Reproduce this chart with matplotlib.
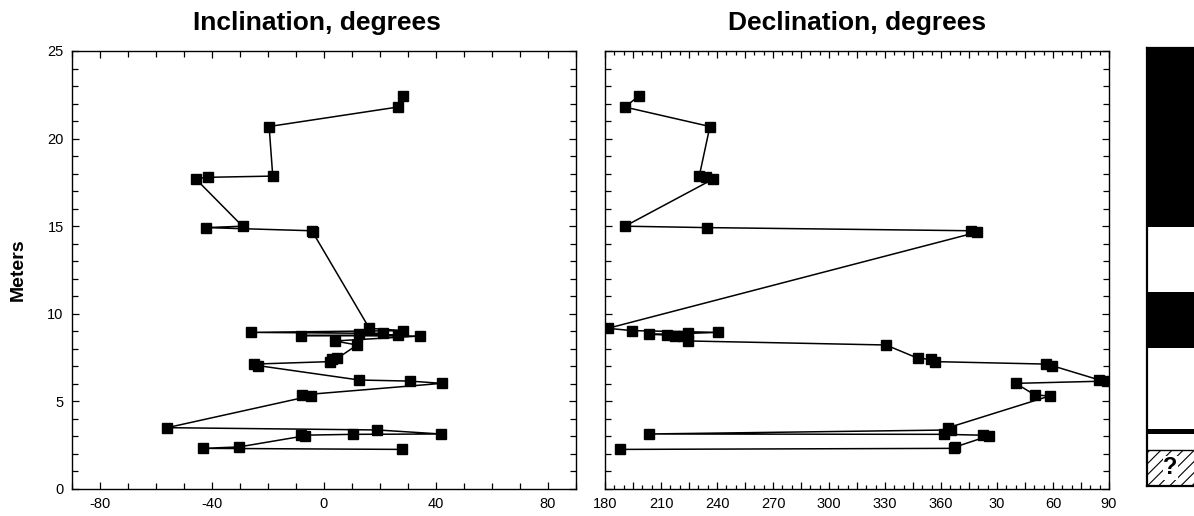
import matplotlib.pyplot as plt
from matplotlib.ticker import MultipleLocator, FuncFormatter

plt.rcParams['font.family'] = ['Liberation Sans', 'DejaVu Sans']
plt.rcParams['hatch.linewidth'] = 0.8
plt.rcParams['axes.unicode_minus'] = False

# sample depth in meters, same order in both panels
depth = [22.45, 21.80, 20.69, 17.86, 17.79, 17.70, 15.00, 14.92, 14.74, 14.65,
         9.17, 9.04, 8.94, 8.88, 8.83, 8.79, 8.76, 8.73, 8.45, 8.22,
         7.46, 7.40, 7.27, 7.13, 7.04, 6.22, 6.16, 6.03, 5.37, 5.31,
         3.50, 3.37, 3.14, 3.12, 3.07, 3.04, 2.40, 2.32, 2.26]
inclination = [28.1, 26.3, -19.6, -18.3, -41.6, -45.8, -29.1, -42.1, -4.4, -4.0,
               16.2, 28.2, -26.2, 20.9, 12.6, 26.6, -8.2, 34.2, 3.8, 11.8,
               4.8, 2.7, 2.2, -24.9, -23.4, 12.6, 30.6, 42.1, -7.8, -4.8,
               -56.0, 19.0, 41.7, 10.4, -8.2, -6.7, -30.4, -43.3, 27.8]
# declination unwrapped past 360 (0-90 sits right of 360)
declination = [198.3, 190.7, 236.2, 230.5, 234.3, 238.1, 190.7, 234.5, 376.3, 379.1,
               181.5, 194.7, 240.6, 224.2, 203.4, 213.0, 217.5, 222.0, 224.4, 330.5,
               347.7, 354.4, 356.8, 416.3, 419.5, 444.9, 448.7, 400.1, 410.2, 418.2,
               363.9, 365.4, 203.4, 361.6, 382.6, 385.8, 367.7, 366.7, 188.0]

# polarity column
zone_top = [25.17, 14.93, 11.22, 8.03, 3.41, 3.14, 2.23]
zone_bottom = [14.93, 11.22, 8.03, 3.41, 3.14, 2.23, 0.17]
zone_kind = ['normal', 'reversed', 'normal', 'reversed', 'normal', 'reversed', 'unknown']

W, H = 1194, 516
fig = plt.figure(figsize=(W / 100, H / 100), dpi=100)


def px_axes(left, top, right, bottom):
	return fig.add_axes([left / W, 1 - bottom / H, (right - left) / W, (bottom - top) / H])


def style_axes(ax):
	ax.set_ylim(0, 25)
	ax.yaxis.set_major_locator(MultipleLocator(5))
	ax.yaxis.set_minor_locator(MultipleLocator(1))
	ax.tick_params(which='both', direction='in', top=True, right=True, width=0.9, labelsize=10.5)
	ax.tick_params(which='major', length=5, pad=6)
	ax.tick_params(which='minor', length=4)
	for s in ax.spines.values():
		s.set_linewidth(1.0)


ax1 = px_axes(72, 51, 576, 489)
ax1.plot(inclination, depth, color='black', linewidth=1.1, marker='s', markersize=7)
ax1.set_xlim(-90, 90)
ax1.xaxis.set_major_locator(MultipleLocator(40))
ax1.xaxis.set_minor_locator(MultipleLocator(10))
style_axes(ax1)
ax1.set_title('Inclination, degrees', fontsize=19, fontweight='bold', pad=15, x=0.485)
ax1.set_ylabel('Meters', fontsize=14, fontweight='bold')
ax1.yaxis.set_label_coords(-0.089, 0.5)

ax2 = px_axes(605, 51, 1109, 489)
ax2.plot(declination, depth, color='black', linewidth=1.1, marker='s', markersize=7)
ax2.set_xlim(180, 450)
ax2.xaxis.set_major_locator(MultipleLocator(15))
ax2.xaxis.set_minor_locator(MultipleLocator(5))
ax2.xaxis.set_major_formatter(FuncFormatter(
	lambda v, p: '' if round(v) % 30 else str(int(round(v)) if v <= 360 else int(round(v)) - 360)))
style_axes(ax2)
ax2.tick_params(which='minor', axis='x', length=3)
ax2.set_yticklabels([])
ax2.set_title('Declination, degrees', fontsize=19, fontweight='bold', pad=15)

ax3 = px_axes(1147, 48, 1198, 486)
ax3.set_xlim(0, 1)
ax3.set_ylim(zone_bottom[-1], zone_top[0])
for top, bot, kind in zip(zone_top, zone_bottom, zone_kind):
	if kind == 'normal':
		ax3.axhspan(bot, top, color='black', linewidth=0)
	elif kind == 'unknown':
		ax3.axhspan(bot, top, facecolor='white', edgecolor='black', hatch='///', linewidth=0)
		ax3.text(0.46, (top + bot) / 2, '?', ha='center', va='center', fontsize=17, fontweight='bold',
			bbox=dict(facecolor='white', edgecolor='none', pad=0.5))
ax3.axhline(zone_top[-1], color='black', linewidth=1.0)
ax3.set_xticks([])
ax3.set_yticks([])
ax3.spines['right'].set_visible(False)
for s in ['left', 'top', 'bottom']:
	ax3.spines[s].set_linewidth(1.6)

fig.savefig('out.png', dpi=100)
